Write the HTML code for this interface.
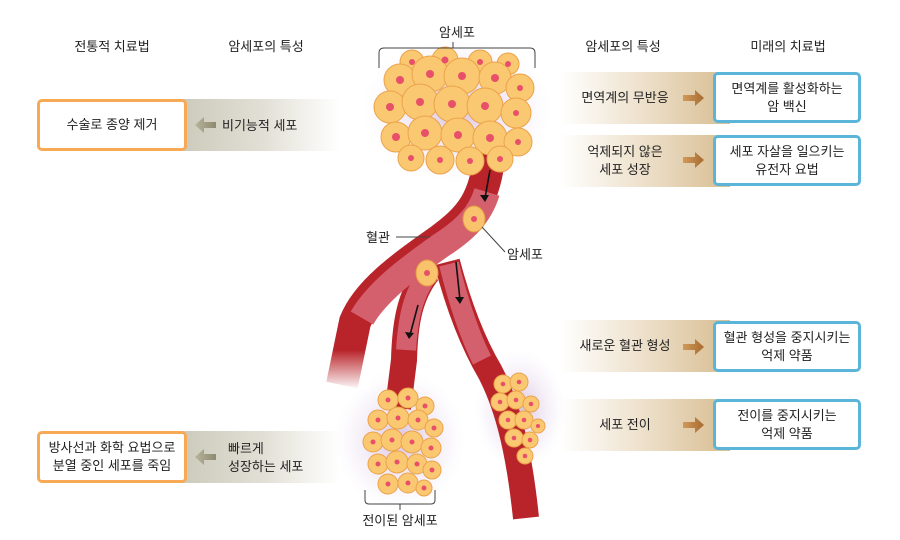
<!DOCTYPE html>
<html><head><meta charset="utf-8"><style>
body{margin:0;width:900px;height:540px;background:#fff;overflow:hidden;position:relative;font-family:"Liberation Sans","Noto Sans CJK KR",sans-serif;color:#222}
.t{position:absolute;font-size:13px;text-align:center;line-height:18px}
.lb{position:absolute;background:linear-gradient(to right,#c4c2b0,#e2e0d6 60%,#fff)}
.rb{position:absolute;background:linear-gradient(to right,#fff,#efe3cf 45%,#d8bd92)}
.ob{position:absolute;border:3px solid #f7a955;border-radius:5px;background:#fff;box-sizing:border-box;display:flex;align-items:center;justify-content:center;text-align:center;font-size:13px;line-height:18px}
.bb{position:absolute;border:3px solid #5bb5d8;border-radius:5px;background:#fff;box-sizing:border-box;display:flex;align-items:center;justify-content:center;text-align:center;font-size:13px;line-height:18px}
</style></head><body>
<div class="t" style="left:62px;top:38px;width:100px">전통적 치료법</div>
<div class="t" style="left:216px;top:38px;width:100px">암세포의 특성</div>
<div class="t" style="left:573px;top:38px;width:100px">암세포의 특성</div>
<div class="t" style="left:738px;top:38px;width:100px">미래의 치료법</div>

<div class="lb" style="left:150px;top:99px;width:190px;height:52px"></div>
<div class="lb" style="left:150px;top:431px;width:190px;height:52px"></div>
<div class="ob" style="left:37px;top:99px;width:150px;height:52px">수술로 종양 제거</div>
<div class="ob" style="left:37px;top:431px;width:150px;height:52px">방사선과 화학 요법으로<br>분열 중인 세포를 죽임</div>
<div class="t" style="left:222px;top:117px;width:90px;text-align:left">비기능적 세포</div>
<div class="t" style="left:228px;top:440px;width:90px;text-align:left">빠르게<br>성장하는 세포</div>

<div class="rb" style="left:560px;top:72px;width:170px;height:52px"></div>
<div class="rb" style="left:560px;top:135px;width:170px;height:52px"></div>
<div class="rb" style="left:560px;top:320px;width:170px;height:52px"></div>
<div class="rb" style="left:560px;top:399px;width:170px;height:52px"></div>
<div class="t" style="left:570px;top:89px;width:110px">면역계의 무반응</div>
<div class="t" style="left:570px;top:143px;width:110px">억제되지 않은<br>세포 성장</div>
<div class="t" style="left:570px;top:337px;width:110px">새로운 혈관 형성</div>
<div class="t" style="left:570px;top:416px;width:110px">세포 전이</div>
<div class="bb" style="left:713px;top:72px;width:148px;height:51px">면역계를 활성화하는<br>암 백신</div>
<div class="bb" style="left:713px;top:135px;width:148px;height:51px">세포 자살을 일으키는<br>유전자 요법</div>
<div class="bb" style="left:713px;top:321px;width:148px;height:51px">혈관 형성을 중지시키는<br>억제 약품</div>
<div class="bb" style="left:713px;top:399px;width:148px;height:51px">전이를 중지시키는<br>억제 약품</div>

<svg width="900" height="540" style="position:absolute;left:0;top:0">
<defs>
<radialGradient id="gl"><stop offset="0" stop-color="#c9a8d6" stop-opacity=".7"/><stop offset="1" stop-color="#e8dcef" stop-opacity="0"/></radialGradient>
<linearGradient id="la" x1="0" x2="1"><stop offset="0" stop-color="#b8b49c"/><stop offset="1" stop-color="#8e8a70"/></linearGradient>
<linearGradient id="ra" x1="0" x2="1"><stop offset="0" stop-color="#d09a5a"/><stop offset="1" stop-color="#a86a30"/></linearGradient>
<linearGradient id="fd" x1="0" y1="0" x2="0" y2="1"><stop offset="0" stop-color="#fff" stop-opacity="0"/><stop offset="1" stop-color="#fff" stop-opacity="1"/></linearGradient>
</defs>
<path d="M195,125 l9,-8 v5 h12 v6 h-12 v5z" fill="url(#la)"/>
<path d="M195,457 l9,-8 v5 h12 v6 h-12 v5z" fill="url(#la)"/>
<g fill="url(#ra)"><path d="M683,95 h12 v-5 l9,8 -9,8 v-5 h-12z"/><path d="M683,157 h12 v-5 l9,8 -9,8 v-5 h-12z"/><path d="M683,344 h12 v-5 l9,8 -9,8 v-5 h-12z"/><path d="M683,422 h12 v-5 l9,8 -9,8 v-5 h-12z"/></g>
<ellipse cx="457" cy="110" rx="95" ry="72" fill="url(#gl)"/>
<ellipse cx="400" cy="440" rx="65" ry="70" fill="url(#gl)"/>
<ellipse cx="520" cy="410" rx="45" ry="60" fill="url(#gl)"/>
<g fill="none" stroke="#b8242a" stroke-linecap="butt">
<path d="M490,150 C486,200 470,218 440,240 C405,265 368,290 355,322 L342,385" stroke-width="32"/>
<path d="M428,272 C410,295 405,322 404,360 L398,408" stroke-width="26"/>
<path d="M447,262 C457,300 470,338 490,372 C510,410 520,460 526,518" stroke-width="26"/>
</g>
<rect x="320" y="350" width="50" height="40" fill="url(#fd)"/>
<g fill="none" stroke="#d4606e">
<path d="M487,192 C480,215 465,230 440,246 C412,266 378,290 362,318" stroke-width="26"/>
<path d="M428,274 C412,296 408,320 406,350" stroke-width="20"/>
<path d="M449,264 C458,300 468,332 482,360" stroke-width="20"/>
</g>
<g fill="#f8c36c" stroke="#e59a40"><ellipse cx="474" cy="219" rx="11" ry="13"/><ellipse cx="427" cy="273" rx="11" ry="13"/></g>
<circle cx="474" cy="219" r="3" fill="#e8506a"/><circle cx="427" cy="273" r="3" fill="#e8506a"/>
<g stroke="#111" stroke-width="1.6" fill="none"><path d="M490,170 L485,198"/><path d="M456,262 L460,300"/><path d="M418,305 L410,335"/></g>
<g fill="#111"><path d="M480,195 l5,7 4,-7z"/><path d="M455,297 l5,7 4,-7z"/><path d="M405,332 l4,7 5,-6z"/></g>
<g fill="#fbc872" stroke="#eba24a">
<circle cx="412" cy="62" r="12"/><circle cx="445" cy="60" r="13"/><circle cx="480" cy="62" r="12"/><circle cx="508" cy="64" r="11"/>
<circle cx="400" cy="80" r="16"/><circle cx="430" cy="74" r="18"/><circle cx="462" cy="76" r="18"/><circle cx="495" cy="78" r="16"/><circle cx="520" cy="88" r="14"/>
<circle cx="390" cy="107" r="16"/><circle cx="420" cy="102" r="18"/><circle cx="452" cy="104" r="18"/><circle cx="485" cy="106" r="18"/><circle cx="516" cy="113" r="15"/>
<circle cx="396" cy="137" r="15"/><circle cx="425" cy="133" r="17"/><circle cx="458" cy="135" r="17"/><circle cx="490" cy="138" r="17"/><circle cx="518" cy="142" r="14"/>
<circle cx="411" cy="158" r="13"/><circle cx="440" cy="160" r="14"/><circle cx="470" cy="161" r="14"/><circle cx="500" cy="159" r="13"/>
</g>
<g fill="#e8506a">
<circle cx="412" cy="62" r="3"/><circle cx="445" cy="60" r="3.5"/><circle cx="480" cy="62" r="3"/><circle cx="508" cy="64" r="3"/>
<circle cx="400" cy="80" r="4"/><circle cx="430" cy="74" r="4"/><circle cx="462" cy="76" r="4"/><circle cx="495" cy="78" r="4"/><circle cx="520" cy="88" r="3"/>
<circle cx="390" cy="107" r="4"/><circle cx="420" cy="102" r="4"/><circle cx="452" cy="104" r="4"/><circle cx="485" cy="106" r="4"/><circle cx="516" cy="113" r="3"/>
<circle cx="396" cy="137" r="4"/><circle cx="425" cy="133" r="4"/><circle cx="458" cy="135" r="4"/><circle cx="490" cy="138" r="4"/><circle cx="518" cy="142" r="3"/>
<circle cx="411" cy="158" r="3"/><circle cx="440" cy="160" r="3"/><circle cx="470" cy="161" r="3"/><circle cx="500" cy="159" r="3"/>
</g>
<g fill="#fbc872" stroke="#eba24a">
<circle cx="388" cy="400" r="10"/><circle cx="408" cy="398" r="10"/><circle cx="425" cy="406" r="9"/>
<circle cx="378" cy="420" r="10"/><circle cx="398" cy="418" r="11"/><circle cx="418" cy="420" r="10"/><circle cx="434" cy="428" r="9"/>
<circle cx="373" cy="442" r="10"/><circle cx="392" cy="440" r="11"/><circle cx="412" cy="442" r="11"/><circle cx="431" cy="448" r="10"/>
<circle cx="378" cy="464" r="10"/><circle cx="397" cy="462" r="11"/><circle cx="417" cy="464" r="10"/><circle cx="432" cy="470" r="9"/>
<circle cx="388" cy="484" r="10"/><circle cx="408" cy="483" r="10"/><circle cx="424" cy="488" r="8"/>
</g>
<g fill="#e8506a">
<circle cx="388" cy="400" r="2.5"/><circle cx="408" cy="398" r="2.5"/><circle cx="425" cy="406" r="2.5"/><circle cx="378" cy="420" r="2.5"/><circle cx="398" cy="418" r="2.5"/><circle cx="418" cy="420" r="2.5"/><circle cx="434" cy="428" r="2.5"/><circle cx="373" cy="442" r="2.5"/><circle cx="392" cy="440" r="2.5"/><circle cx="412" cy="442" r="2.5"/><circle cx="431" cy="448" r="2.5"/><circle cx="378" cy="464" r="2.5"/><circle cx="397" cy="462" r="2.5"/><circle cx="417" cy="464" r="2.5"/><circle cx="432" cy="470" r="2.5"/><circle cx="388" cy="484" r="2.5"/><circle cx="408" cy="483" r="2.5"/><circle cx="424" cy="488" r="2.5"/>
</g>
<g fill="#fbc872" stroke="#eba24a">
<circle cx="503" cy="384" r="9"/><circle cx="519" cy="382" r="9"/><circle cx="500" cy="402" r="9"/><circle cx="516" cy="400" r="9"/><circle cx="531" cy="404" r="8"/>
<circle cx="508" cy="420" r="9"/><circle cx="524" cy="420" r="9"/><circle cx="538" cy="426" r="7"/><circle cx="514" cy="438" r="9"/><circle cx="530" cy="440" r="8"/><circle cx="525" cy="456" r="8"/>
</g>
<g fill="#e8506a">
<circle cx="503" cy="384" r="2.3"/><circle cx="519" cy="382" r="2.3"/><circle cx="500" cy="402" r="2.3"/><circle cx="516" cy="400" r="2.3"/><circle cx="531" cy="404" r="2.3"/><circle cx="508" cy="420" r="2.3"/><circle cx="524" cy="420" r="2.3"/><circle cx="538" cy="426" r="2"/><circle cx="514" cy="438" r="2.3"/><circle cx="530" cy="440" r="2.3"/><circle cx="525" cy="456" r="2.3"/>
</g>
<g stroke="#444" stroke-width="1" fill="none">
<path d="M379,68 V53 Q379,48 384,48 H453 V42 M453,48 H530 Q535,48 535,53 V68"/>
<path d="M365,490 V500 Q365,504 369,504 H400 V510 M400,504 H431 Q435,504 435,500 V490"/>
<path d="M396,237 H430"/>
<path d="M482,227 L505,252"/>
</g>
<text x="457" y="37" font-size="13" text-anchor="middle" fill="#222">암세포</text>
<text x="378" y="242" font-size="13" text-anchor="middle" fill="#222">혈관</text>
<text x="525" y="259" font-size="13" text-anchor="middle" fill="#222">암세포</text>
<text x="400" y="525" font-size="13" text-anchor="middle" fill="#222">전이된 암세포</text>
</svg>
</body></html>
